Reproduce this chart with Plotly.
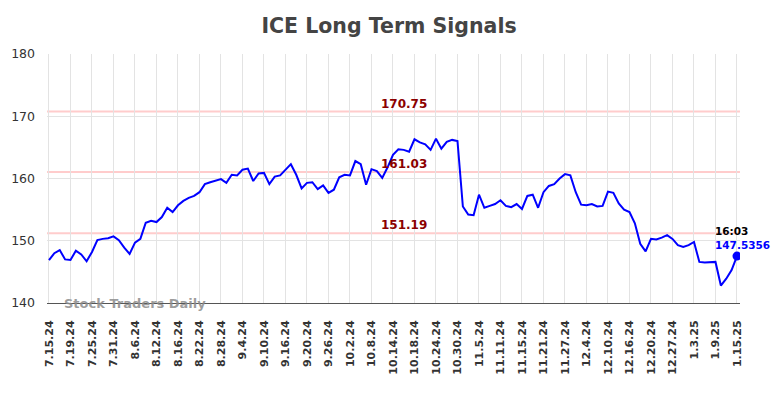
import plotly.graph_objects as go

tick_labels = ["7.15.24", "7.19.24", "7.25.24", "7.31.24", "8.6.24", "8.12.24", "8.16.24",
               "8.22.24", "8.28.24", "9.4.24", "9.10.24", "9.16.24", "9.20.24", "9.26.24",
               "10.2.24", "10.8.24", "10.14.24", "10.18.24", "10.24.24", "10.30.24", "11.5.24",
               "11.11.24", "11.15.24", "11.21.24", "11.27.24", "12.4.24", "12.10.24", "12.16.24",
               "12.20.24", "12.27.24", "1.3.25", "1.9.25", "1.15.25"]
tick_step = 4

prices = [146.9, 148.0, 148.5, 147.0, 146.9, 148.4, 147.8, 146.7, 148.2, 150.1,
          150.3, 150.4, 150.7, 150.1, 148.9, 147.9, 149.7, 150.3, 152.9, 153.2,
          153.0, 153.8, 155.3, 154.6, 155.7, 156.4, 156.9, 157.2, 157.8, 159.1,
          159.4, 159.7, 159.9, 159.3, 160.6, 160.5, 161.4, 161.6, 159.6, 160.8,
          160.9, 159.1, 160.3, 160.5, 161.4, 162.3, 160.6, 158.4, 159.3, 159.4,
          158.3, 158.9, 157.7, 158.2, 160.2, 160.6, 160.5, 162.8, 162.3, 159.0,
          161.5, 161.2, 160.1, 161.8, 163.8, 164.7, 164.6, 164.3, 166.3, 165.8,
          165.5, 164.6, 166.4, 164.8, 165.9, 166.2, 166.0, 155.5, 154.2, 154.1,
          157.4, 155.3, 155.6, 155.9, 156.5, 155.6, 155.4, 155.9, 155.1, 157.2,
          157.4, 155.3, 157.8, 158.8, 159.1, 160.0, 160.7, 160.5, 157.8, 155.8,
          155.7, 155.9, 155.5, 155.6, 157.9, 157.7, 156.0, 155.0, 154.6, 152.8,
          149.5, 148.3, 150.3, 150.2, 150.5, 150.9, 150.3, 149.3, 149.0, 149.3,
          149.8, 146.6, 146.5, 146.6, 146.6, 142.8, 143.9, 145.3, 147.5356]

levels = [170.75, 161.03, 151.19]
last_time = "16:03"
title = "ICE Long Term Signals"
watermark = "Stock Traders Daily"

x = list(range(len(prices)))
font = "DejaVu Sans"

fig = go.Figure()
fig.add_trace(go.Scatter(x=x, y=prices, mode="lines",
                         line=dict(color="#0000ff", width=2), hoverinfo="skip"))
fig.add_trace(go.Scatter(x=[x[-1]], y=[prices[-1]], mode="markers",
                         marker=dict(color="#0000ff", size=9), hoverinfo="skip"))

label_x = 66
for lv in levels:
    fig.add_hline(y=lv, line=dict(color="#ffcccc", width=2), layer="below")
    fig.add_annotation(x=label_x, y=lv, text=f"<b>{lv:.2f}</b>", showarrow=False,
                       yshift=8, font=dict(family=font, size=12, color="#8b0000"))

fig.add_annotation(x=x[-1], y=prices[-1], text=f"<b>{last_time}</b>", showarrow=False,
                   xanchor="left", yshift=25, xshift=-24,
                   font=dict(family=font, size=10.5, color="#000000"))
fig.add_annotation(x=x[-1], y=prices[-1], text=f"<b>{prices[-1]:.4f}</b>", showarrow=False,
                   xanchor="left", yshift=11, xshift=-24,
                   font=dict(family=font, size=10.5, color="#0000ff"))

fig.add_annotation(xref="paper", yref="paper", x=0.022, y=0.0, xanchor="left", yanchor="middle",
                   text=f"<b>{watermark}</b>", showarrow=False,
                   font=dict(family=font, size=13, color="rgba(140,140,140,0.85)"))

fig.update_layout(
    width=784, height=398,
    margin=dict(l=39, r=52, t=46, b=103),
    paper_bgcolor="white", plot_bgcolor="white",
    showlegend=False,
    title=dict(text=f"<b>{title}</b>", x=0.486, xanchor="center", y=1 - 18 / 398, yanchor="middle",
               font=dict(family=font, size=20.5, color="#444444")),
    font=dict(family=font),
)
fig.update_xaxes(range=[-0.37, 128.56], tickmode="array", automargin=False,
                 tickvals=[i * tick_step for i in range(len(tick_labels))],
                 ticktext=[f"<b>{t}</b>" for t in tick_labels], tickangle=-90,
                 tickfont=dict(family=font, size=11, color="#333333"),
                 ticklabelstandoff=12,
                 showgrid=True, gridcolor="#e3e3e3", gridwidth=1,
                 showline=True, linecolor="#555555", linewidth=1, zeroline=False, ticks="")
fig.update_yaxes(range=[140, 180], tickvals=[140, 150, 160, 170, 180], automargin=False,
                 tickfont=dict(family=font, size=12.5, color="#333333"),
                 ticklabelstandoff=11,
                 showgrid=True, gridcolor="#e3e3e3", gridwidth=1,
                 zeroline=False, showline=False, ticks="")

fig.write_html("out.html")
